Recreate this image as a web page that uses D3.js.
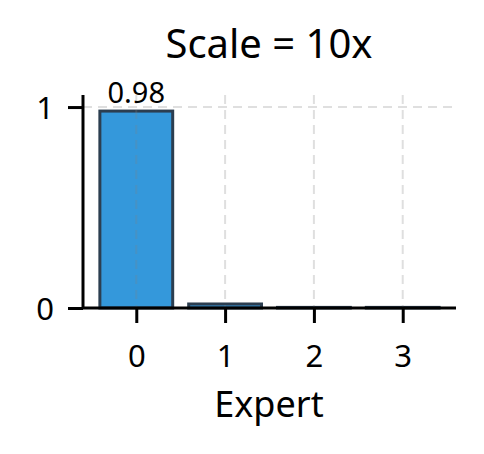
<!DOCTYPE html>
<html><head><meta charset="utf-8">
<script src="https://cdn.jsdelivr.net/npm/d3@7"></script>
<style>body{margin:0;background:#fff}text{font-family:"Noto Sans",sans-serif;fill:#000}</style>
</head><body>
<svg id="c" width="484" height="454"></svg>
<script>
const experts = [0, 1, 2, 3];
const values = [0.98, 0.02, 0.003, 0.003];
const yTicks = [0, 1];
const title = "Scale = 10x";
const xLabel = "Expert";

const svg = d3.select("#c");
const L = 83, R = 456, T = 95, B = 308;
const x = d3.scaleLinear().domain([-0.6, 3.6]).range([L, R]);
const y = d3.scaleLinear().domain([0, 1.06]).range([B, T]);
const bw = (x(1) - x(0)) * 0.82;

// bars
svg.selectAll(".bar").data(values).enter().append("rect")
  .attr("x", (d, i) => x(experts[i]) - bw / 2)
  .attr("width", bw)
  .attr("y", d => y(d))
  .attr("height", d => y(0) - y(d))
  .attr("fill", "#3498db").attr("stroke", "#2c3e50").attr("stroke-width", 3);

// grid (drawn over bars, translucent)
const g = svg.append("g").attr("stroke", "#808080").attr("stroke-opacity", 0.25)
  .attr("stroke-width", 2).attr("stroke-dasharray", "9,6");
g.selectAll(".vg").data(experts).enter().append("line")
  .attr("x1", d => x(d)).attr("x2", d => x(d)).attr("y1", T).attr("y2", B);
g.selectAll(".hg").data(yTicks).enter().append("line")
  .attr("x1", L).attr("x2", R).attr("y1", d => y(d)).attr("y2", d => y(d));

// value label
svg.append("text").attr("x", x(0)).attr("y", y(values[0]) - 8)
  .attr("text-anchor", "middle").attr("font-size", 29).text(values[0].toFixed(2));

// axes
const xAxis = d3.axisBottom(x).tickValues(experts).tickFormat(d3.format("d")).tickSize(15).tickPadding(6);
const yAxis = d3.axisLeft(y).tickValues(yTicks).tickFormat(d3.format("d")).tickSize(15).tickPadding(14);
const xa = svg.append("g").attr("transform", `translate(0,${B})`).call(xAxis);
const ya = svg.append("g").attr("transform", `translate(${L},0)`).call(yAxis);
[xa, ya].forEach(a => {
  a.select(".domain").attr("stroke", "#000").attr("stroke-width", 3);
  a.selectAll(".tick line").attr("stroke", "#000").attr("stroke-width", 3);
  a.selectAll(".tick text").attr("font-size", 31).attr("fill", "#000")
    .style("font-family", '"Noto Sans",sans-serif');
});
xa.select(".domain").attr("d", `M${L},0H${R}`);
ya.select(".domain").attr("d", `M0,${B}V${T}`);
xa.selectAll(".tick text").attr("dy", null).attr("y", 59);
ya.selectAll(".tick text").attr("dy", "0.36em");

svg.append("text").attr("x", 269).attr("y", 58).attr("text-anchor", "middle")
  .attr("font-size", 40).text(title);
svg.append("text").attr("x", 269).attr("y", 417).attr("text-anchor", "middle")
  .attr("font-size", 36).text(xLabel);
</script>
</body></html>
